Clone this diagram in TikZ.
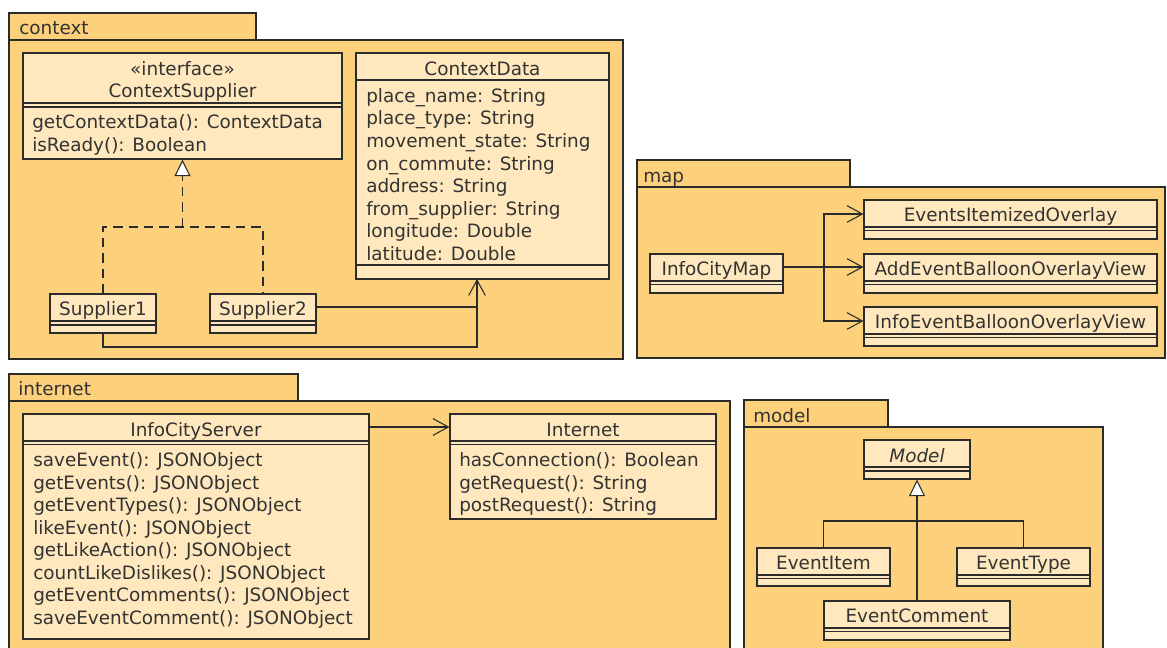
\documentclass[tikz,border=0pt]{standalone}
\usepackage{fontspec}
\setmainfont{DejaVu Sans}
\usetikzlibrary{arrows.meta,fit}
\definecolor{pkg}{HTML}{FDD07C}
\definecolor{clsfill}{HTML}{FFE8BD}
\definecolor{ln}{HTML}{2B2B2B}
\definecolor{txt}{HTML}{333333}
\begin{document}
\begin{tikzpicture}[x=0.75pt,y=-0.75pt,
  every node/.style={font=\fontsize{13.8}{16}\selectfont, text=txt},
  pkgshape/.style={draw=ln, fill=pkg, line width=0.8pt, inner sep=0pt},
  clsshape/.style={draw=ln, fill=clsfill, line width=0.8pt, inner sep=0pt},
  lbl/.style={anchor=west, inner sep=0pt, text height=12.5pt, text depth=3pt},
  ttl/.style={anchor=center, inner sep=0pt, text height=12.5pt, text depth=3pt},
  sep/.style={draw=ln, line width=0.8pt},
  link/.style={draw=ln, line width=0.8pt},
  assoc/.style={link, -{Straight Barb[length=11.5pt,width=12.5pt,line width=0.8pt]}},
  gen/.style={link, -{Triangle[length=12.5pt,width=12pt,fill=white,line width=0.8pt]}},
  realz/.style={link, dash pattern=on 7pt off 4.5pt}
]
\useasboundingbox (0,0) rectangle (1167,648);
\clip (0,0) rectangle (1167,648);

% ================= context =================
\node[pkgshape, fit={(9,13)(256,40)}] (ctxtab) {};
\node[pkgshape, fit={(9,40)(623,359)}] (ctx) {};
\node[lbl] (ctxlbl) at (19,28.5) {context};

% ContextSupplier
\node[clsshape, fit={(23,53)(342,159)}] (cs) {};
\node[ttl] (csst) at (182.5,69) {«interface»};
\node[ttl] (cst) at (182.5,91.5) {ContextSupplier};
\draw[sep] (23,103) -- (342,103);
\draw[sep] (23,107) -- (342,107);
\node[lbl] (csm1) at (32,122.5) {getContextData(): ContextData};
\node[lbl] (csm2) at (32,145) {isReady(): Boolean};

% ContextData
\node[clsshape, fit={(356,53)(609,279)}] (cd) {};
\node[ttl] (cdt) at (482.5,69) {ContextData};
\draw[sep] (356,80) -- (609,80);
\node[lbl] (cda1) at (366,96) {place\_name: String};
\node[lbl] (cda2) at (366,118.6) {place\_type: String};
\node[lbl] (cda3) at (366,141.2) {movement\_state: String};
\node[lbl] (cda4) at (366,163.8) {on\_commute: String};
\node[lbl] (cda5) at (366,186.4) {address: String};
\node[lbl] (cda6) at (366,209) {from\_supplier: String};
\node[lbl] (cda7) at (366,231.6) {longitude: Double};
\node[lbl] (cda8) at (366,254.2) {latitude: Double};
\draw[sep] (356,265) -- (609,265);

% Suppliers
\node[clsshape, fit={(50,294)(156,333)}] (s1) {};
\node[ttl] (s1t) at (103,309.5) {Supplier1};
\draw[sep] (50,321) -- (156,321);
\draw[sep] (50,325) -- (156,325);
\node[clsshape, fit={(210,294)(316,333)}] (s2) {};
\node[ttl] (s2t) at (263,309.5) {Supplier2};
\draw[sep] (210,321) -- (316,321);
\draw[sep] (210,325) -- (316,325);

% realization
\coordinate (rj) at (182.5,227);
\draw[realz] (s1.north) |- (rj) -| (s2.north);
\draw[realz] (rj) -- (182.5,177);
\draw[gen] (182.5,176) -- (cs.south);
% dependencies to ContextData
\coordinate (cdin) at (477,279);
\draw[link] (s2.east |- 0,307) -| (cdin);
\draw[assoc] (s1.south) |- (477,347) -- (cdin);

% ================= map =================
\node[pkgshape, fit={(637,160)(850,187)}] (maptab) {};
\node[pkgshape, fit={(637,187)(1165,358)}] (map) {};
\node[lbl] (maplbl) at (643,176) {map};

\node[clsshape, fit={(650,254)(783,293)}] (icm) {};
\node[ttl] (icmt) at (716.5,269) {InfoCityMap};
\draw[sep] (650,281) -- (783,281);
\draw[sep] (650,284.5) -- (783,284.5);

\node[clsshape, fit={(864,200)(1157,239)}] (eio) {};
\node[ttl] (eiot) at (1010.5,215.5) {EventsItemizedOverlay};
\draw[sep] (864,227) -- (1157,227);
\draw[sep] (864,230.5) -- (1157,230.5);

\node[clsshape, fit={(864,254)(1157,293)}] (aeb) {};
\node[ttl] (aebt) at (1010.5,269) {AddEventBalloonOverlayView};
\draw[sep] (864,281) -- (1157,281);
\draw[sep] (864,284.5) -- (1157,284.5);

\node[clsshape, fit={(864,307)(1157,346)}] (ieb) {};
\node[ttl] (iebt) at (1010.5,322.5) {InfoEventBalloonOverlayView};
\draw[sep] (864,334) -- (1157,334);
\draw[sep] (864,337.5) -- (1157,337.5);

\coordinate (mbr) at (824,267);
\draw[assoc] (icm.east |- mbr) -- (aeb.west |- mbr);
\draw[assoc] (mbr) |- (eio.west |- 0,214);
\draw[assoc] (mbr) |- (ieb.west |- 0,321);

% ================= internet =================
\node[pkgshape, fit={(9,374)(298,401)}] (nettab) {};
\node[pkgshape, fit={(9,401)(730,660)}] (net) {};
\node[lbl] (netlbl) at (18,389) {internet};

\node[clsshape, fit={(23,414)(369,639)}] (ics) {};
\node[ttl] (icst) at (196,430) {InfoCityServer};
\draw[sep] (23,441) -- (369,441);
\draw[sep] (23,444.5) -- (369,444.5);
\node[lbl] (icsm1) at (33,460.5) {saveEvent(): JSONObject};
\node[lbl] (icsm2) at (33,483) {getEvents(): JSONObject};
\node[lbl] (icsm3) at (33,505.5) {getEventTypes(): JSONObject};
\node[lbl] (icsm4) at (33,528) {likeEvent(): JSONObject};
\node[lbl] (icsm5) at (33,550.5) {getLikeAction(): JSONObject};
\node[lbl] (icsm6) at (33,573) {countLikeDislikes(): JSONObject};
\node[lbl] (icsm7) at (33,595.5) {getEventComments(): JSONObject};
\node[lbl] (icsm8) at (33,618) {saveEventComment(): JSONObject};

\node[clsshape, fit={(450,414)(716,519)}] (inet) {};
\node[ttl] (inett) at (583,430) {Internet};
\draw[sep] (450,441) -- (716,441);
\draw[sep] (450,444.5) -- (716,444.5);
\node[lbl] (inetm1) at (459,460.5) {hasConnection(): Boolean};
\node[lbl] (inetm2) at (459,483) {getRequest(): String};
\node[lbl] (inetm3) at (459,505.5) {postRequest(): String};

\draw[assoc] (ics.east |- 0,427) -- (inet.west |- 0,427);

% ================= model =================
\node[pkgshape, fit={(744,400)(888,427)}] (mdltab) {};
\node[pkgshape, fit={(744,427)(1103,660)}] (mdlpkg) {};
\node[lbl] (mdllbl) at (753,416) {model};

\node[clsshape, fit={(864,440)(970,479)}] (mdl) {};
\node[ttl] (mdlt) at (917,456) {\itshape Model};
\draw[sep] (864,467) -- (970,467);
\draw[sep] (864,471) -- (970,471);

\node[clsshape, fit={(757,548)(890,586)}] (ei) {};
\node[ttl] (eit) at (823.5,563) {EventItem};
\draw[sep] (757,575) -- (890,575);
\draw[sep] (757,578.5) -- (890,578.5);

\node[clsshape, fit={(957,548)(1090,586)}] (et) {};
\node[ttl] (ett) at (1023.5,563) {EventType};
\draw[sep] (957,575) -- (1090,575);
\draw[sep] (957,578.5) -- (1090,578.5);

\node[clsshape, fit={(824,601)(1010,640)}] (ec) {};
\node[ttl] (ect) at (917,616.5) {EventComment};
\draw[sep] (824,628) -- (1010,628);
\draw[sep] (824,631.5) -- (1010,631.5);

\coordinate (gj) at (917,521);
\draw[link] (ei.north) |- (gj) -| (et.north);
\draw[gen] (ec.north) -- (mdl.south);
\end{tikzpicture}
\end{document}
